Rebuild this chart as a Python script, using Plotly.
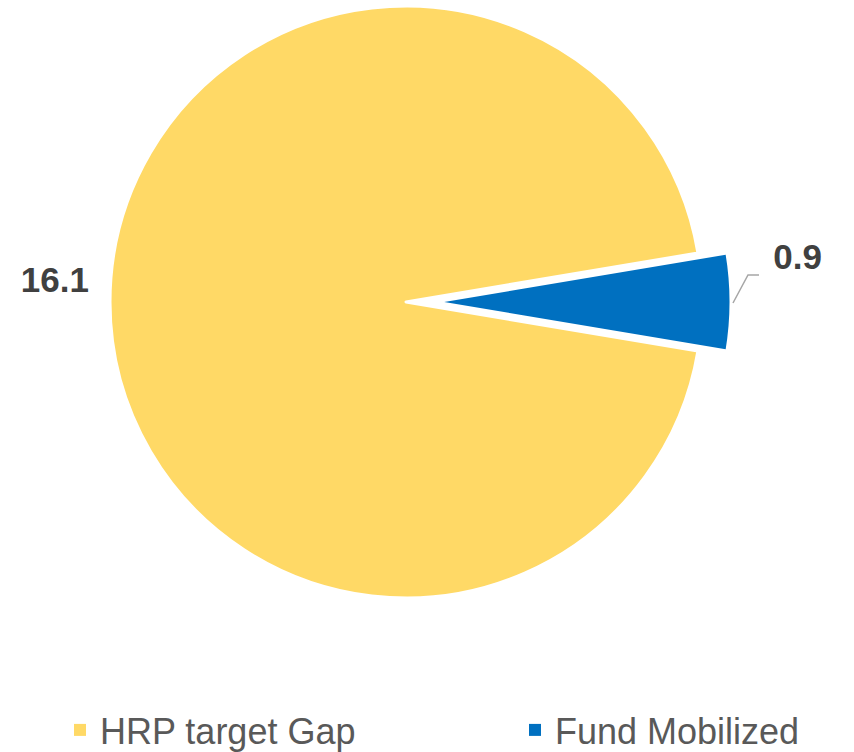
import plotly.graph_objects as go

labels = ["HRP target Gap", "Fund Mobilized"]
values = [16.1, 0.9]
colors = ["#FFD966", "#0070C0"]
transparent = "rgba(0,0,0,0)"

W, H = 854, 752
cx, cy, r = 406, 302, 296   # pie centre / radius in px
shift = 29                   # pulled-out distance of the small slice

total = sum(values)
rotation = 90 + 360 * values[1] / total / 2


def dom(cxp, cyp, rad):
    return dict(x=[(cxp - rad) / W, (cxp + rad) / W],
                y=[(H - cyp - rad) / H, (H - cyp + rad) / H])


fig = go.Figure()

label_font = dict(family="Liberation Sans", size=35, color="#404040", weight="bold")

# legend carriers: tiny pies hidden under the big slice
for i, lg in enumerate(["legend", "legend2"]):
    fig.add_trace(go.Pie(
        labels=[labels[i]], values=[values[i]], marker=dict(colors=[colors[i]]),
        textinfo="none", hoverinfo="skip", legend=lg,
        domain=dom(300, 300, 1),
    ))

# big slice
fig.add_trace(go.Pie(
    labels=labels, values=values, sort=False, direction="clockwise",
    rotation=rotation, showlegend=False,
    marker=dict(colors=[colors[0], transparent], line=dict(color="white", width=[3, 0])),
    texttemplate=["%{value}<br>\u00a0", ""], textposition="outside",
    outsidetextfont=label_font,
    domain=dom(cx, cy, r),
))

# pulled small slice
fig.add_trace(go.Pie(
    labels=labels, values=values, sort=False, direction="clockwise",
    rotation=rotation, showlegend=False,
    marker=dict(colors=[transparent, colors[1]], line=dict(color="white", width=[0, 3])),
    texttemplate=["", "\u00a0%{value}<br>\u00a0<br>\u00a0"], textposition="outside",
    outsidetextfont=label_font,
    domain=dom(cx + shift, cy, r),
))

# leader line of the small slice label
bx = cx + shift + r
fig.add_shape(type="path", xref="paper", yref="paper",
              path=f"M{(bx + 2) / W},{(H - cy - 1) / H} L{(bx + 17) / W},{(H - cy + 27) / H} "
                   f"L{(bx + 28) / W},{(H - cy + 27) / H}",
              line=dict(color="#A6A6A6", width=1.5))

legend_font = dict(size=36, color="#595959", family="Liberation Sans")
fig.update_layout(
    width=W, height=H,
    margin=dict(l=0, r=0, t=0, b=0, autoexpand=False),
    paper_bgcolor="white", plot_bgcolor="white",
    font=dict(family="Liberation Sans"),
    legend=dict(orientation="h", x=60 / W, xanchor="left", y=-8 / H, yanchor="bottom",
                font=legend_font),
    legend2=dict(orientation="h", x=515 / W, xanchor="left", y=-8 / H, yanchor="bottom",
                 font=legend_font),
)

fig.write_html("out.html", config={"displayModeBar": False},
               post_script="document.body.style.margin='0';")
